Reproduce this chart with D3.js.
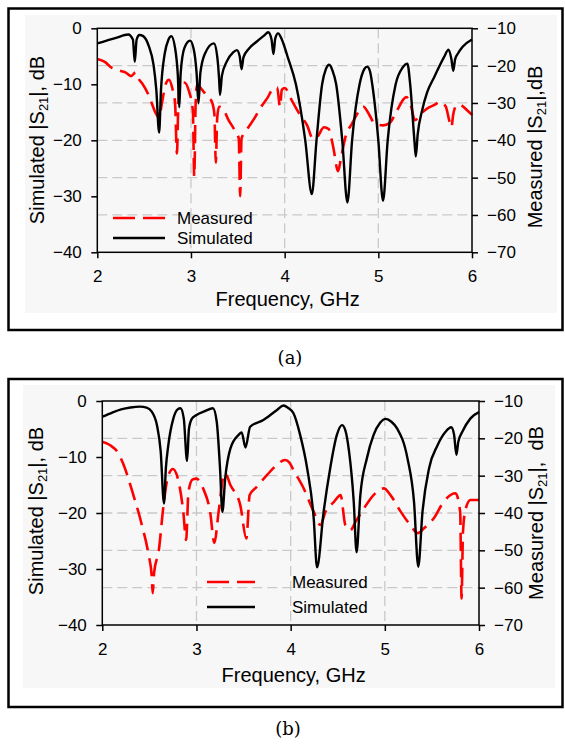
<!DOCTYPE html>
<html>
<head>
<meta charset="utf-8">
<script src="https://cdn.jsdelivr.net/npm/d3@7"></script>
<style>
  body { margin: 0; background: #fff; }
  text { font-family: "Liberation Sans", Arial, sans-serif; fill: #000; }
</style>
</head>
<body>
<svg id="chart" width="565" height="747"></svg>
<script>
// ---- panel (a) ----
const simAFreq = [2.0,2.1,2.2,2.33,2.38,2.40,2.42,2.45,2.49,2.55,2.6,2.63,2.66,2.68,2.72,2.76,2.79,2.83,2.86,2.875,2.89,2.93,2.99,3.03,3.06,3.08,3.1,3.15,3.245,3.28,3.3,3.31,3.33,3.38,3.45,3.49,3.52,3.54,3.56,3.62,3.7,3.78,3.825,3.86,3.88,3.9,3.93,3.97,4.03,4.12,4.22,4.29,4.34,4.4,4.44,4.476,4.51,4.55,4.615,4.67,4.72,4.8,4.85,4.88,4.91,4.935,5.0,5.05,5.1,5.185,5.26,5.31,5.34,5.385,5.40,5.42,5.47,5.52,5.6,5.7,5.75,5.78,5.80,5.82,5.85,5.9,6.0]
const simADb = [-2.7,-2.2,-1.7,-1.1,-2.0,-6.0,-2.0,-1.2,-1.4,-3.2,-6.5,-11,-18.6,-11,-4.5,-2.0,-1.4,-3.5,-8.5,-14.1,-8,-3.5,-2.2,-3.8,-8,-13.4,-8,-4.5,-2.7,-5,-9,-11.9,-8.5,-6,-4.3,-3.9,-5,-7.3,-5.2,-3.6,-2.4,-1.3,-0.7,-2.0,-4.6,-1.8,-0.9,-2.0,-5.0,-10,-20,-29.6,-20,-10,-7.3,-6.5,-7.5,-10,-20,-31.1,-20,-10,-7.3,-6.85,-7.6,-10,-20,-30.8,-20,-10,-7,-6.3,-10,-20,-22.9,-19,-14.5,-11.5,-8.6,-5.2,-3.8,-5.5,-7.6,-5.5,-4.5,-3.3,-2.0]

const measAFreq = [2.0,2.08,2.15,2.23,2.3,2.36,2.41,2.44,2.48,2.55,2.62,2.66,2.69,2.73,2.765,2.8,2.83,2.85,2.865,2.88,2.93,2.98,3.02,3.035,3.05,3.065,3.12,3.18,3.22,3.25,3.265,3.28,3.30,3.34,3.40,3.46,3.51,3.525,3.54,3.6,3.68,3.75,3.82,3.88,3.92,3.95,3.97,4.0,4.08,4.16,4.24,4.3,4.35,4.42,4.47,4.52,4.57,4.6,4.65,4.72,4.8,4.84,4.9,4.96,5.05,5.12,5.2,5.27,5.3,5.35,5.39,5.45,5.52,5.6,5.66,5.72,5.76,5.78,5.80,5.84,5.88,5.95,6.0]
const measADb = [-18.2,-19,-20.5,-21.3,-21.8,-22.8,-21.8,-23.5,-24.8,-28,-32.5,-34,-30,-25,-23.8,-26,-30,-43.5,-30,-24.5,-24.5,-27,-32,-49.7,-30,-25.2,-26.5,-28.5,-29.5,-33,-46,-34,-31,-31.5,-34.5,-37,-39.5,-55,-39.5,-37,-34,-31,-28.5,-26,-25.8,-31,-26.5,-26,-29.5,-33,-36,-39.5,-39,-36.5,-37,-42,-48.3,-45,-39,-35.5,-32,-31,-33,-35.5,-36,-35.4,-32,-29,-28.4,-31,-34.6,-33,-31.5,-30.5,-29.7,-31,-35,-36.5,-33,-30.5,-30.6,-32,-33.2]

// ---- panel (b) ----
const simBFreq = [2.0,2.1,2.2,2.3,2.4,2.47,2.525,2.58,2.62,2.655,2.675,2.70,2.755,2.8,2.83,2.865,2.90,2.92,2.95,3.0,3.09,3.175,3.215,3.25,3.275,3.305,3.36,3.445,3.48,3.52,3.57,3.71,3.855,3.925,3.97,4.03,4.1,4.175,4.245,4.28,4.35,4.42,4.49,4.545,4.58,4.62,4.67,4.70,4.74,4.81,4.88,4.95,5.01,5.07,5.13,5.24,5.31,5.355,5.40,5.47,5.56,5.645,5.705,5.735,5.76,5.78,5.82,5.91,6.0]
const simBDb = [-2.8,-2.1,-1.5,-1.15,-1.0,-1.2,-1.9,-4.3,-9,-18.3,-12,-8,-3.1,-1.5,-1.3,-3.1,-10.7,-5,-3.2,-2.5,-1.8,-1.3,-3.7,-12,-19.8,-13.8,-8.5,-6.1,-5.6,-8.3,-4.6,-3.4,-1.6,-0.8,-1.2,-2.2,-6,-12,-21,-29.7,-19.8,-12,-6.1,-4.3,-5.2,-9,-18,-27,-16.8,-10.2,-6.1,-3.9,-3.2,-3.7,-4.9,-10.2,-18,-29.6,-19.8,-12,-7.9,-5.5,-4.7,-6,-9.6,-7.3,-5.6,-3.1,-2.0]

const measBFreq = [2.0,2.08,2.17,2.22,2.33,2.42,2.49,2.525,2.535,2.55,2.6,2.65,2.70,2.75,2.81,2.86,2.89,2.915,2.96,3.0,3.07,3.145,3.19,3.235,3.29,3.305,3.36,3.465,3.53,3.565,3.64,3.75,3.855,3.94,3.99,4.03,4.14,4.245,4.315,4.37,4.46,4.53,4.58,4.635,4.69,4.78,4.88,4.99,5.06,5.17,5.27,5.35,5.415,5.52,5.625,5.75,5.80,5.815,5.83,5.86,5.91,6.0]
const measBDb = [-20.9,-21.8,-24.0,-26.7,-35.2,-43.2,-51,-57,-61.5,-56,-50,-38,-30,-28.2,-31.6,-39.7,-47.2,-34.3,-31,-30.8,-33.4,-39.7,-48,-39.7,-29.8,-29.4,-32.5,-37.9,-46.8,-35.2,-33,-29.8,-27.1,-25.8,-26.6,-28.5,-33.5,-39.7,-43.2,-39.7,-37,-35.2,-43.2,-44.6,-42.3,-38.7,-35.2,-33.4,-35.2,-39.7,-43.2,-45.4,-44.1,-41.4,-37,-34.7,-39.7,-62.9,-45,-38.7,-36.5,-36.5]

// ticks and labels
const freqTicks = [2, 3, 4, 5, 6]
const simTicks = [0, -10, -20, -30, -40]
const measTicks = [-10, -20, -30, -40, -50, -60, -70]
const gridFreq = [3, 4, 5]
const gridMeas = [-20, -30, -40, -50, -60]
const legendLabels = ["Measured", "Simulated"]

const svg = d3.select("#chart")

function zip (f, v) {
  return f.map(function (d, i) { return [d, v[i]] })
}

function drawPanel (p) {
  const g = svg.append("g")

  // outer frame + light plot background
  g.append("rect")
    .attr("x", 8.5).attr("y", p.boxTop)
    .attr("width", 554).attr("height", p.boxH)
    .attr("fill", "#fff").attr("stroke", "#000").attr("stroke-width", 2.5)
  g.append("rect")
    .attr("x", p.bg[0]).attr("y", p.bg[1])
    .attr("width", p.bg[2]).attr("height", p.bg[3])
    .attr("fill", "#f7f7f7")

  const x = d3.scaleLinear().domain([2, 6]).range([p.left, p.right])
  const ySim = d3.scaleLinear().domain([-40, 0]).range([p.bottom, p.top])
  const yMeas = d3.scaleLinear().domain([-70, -10]).range([p.bottom, p.top])

  // grid
  g.selectAll(".hgrid").data(gridMeas).join("line")
    .attr("x1", p.left).attr("x2", p.right)
    .attr("y1", d => yMeas(d)).attr("y2", d => yMeas(d))
    .attr("stroke", "#c9c9c9").attr("stroke-width", 1.3).attr("stroke-dasharray", "10,5")
  g.selectAll(".vgrid").data(gridFreq).join("line")
    .attr("x1", d => x(d)).attr("x2", d => x(d))
    .attr("y1", p.top).attr("y2", p.bottom)
    .attr("stroke", "#c9c9c9").attr("stroke-width", 1.3).attr("stroke-dasharray", "10,5")

  const simLine = d3.line().x(d => x(d[0])).y(d => ySim(d[1])).curve(d3.curveMonotoneX)
  const measLine = d3.line().x(d => x(d[0])).y(d => yMeas(d[1])).curve(d3.curveMonotoneX)

  g.append("path").datum(zip(p.measF, p.measV))
    .attr("d", measLine).attr("fill", "none")
    .attr("stroke", "#ff0000").attr("stroke-width", 2.6).attr("stroke-dasharray", "18,8")
  g.append("path").datum(zip(p.simF, p.simV))
    .attr("d", simLine).attr("fill", "none")
    .attr("stroke", "#000").attr("stroke-width", 2.4).attr("stroke-linejoin", "round")

  // plot box
  g.append("rect")
    .attr("x", p.left).attr("y", p.top)
    .attr("width", p.right - p.left).attr("height", p.bottom - p.top)
    .attr("fill", "none").attr("stroke", "#000").attr("stroke-width", 1.5)

  // axes
  const axL = g.append("g").attr("transform", "translate(" + p.left + ",0)")
    .call(d3.axisLeft(ySim).tickValues(simTicks).tickSize(6).tickSizeOuter(0).tickPadding(9.5))
  const axR = g.append("g").attr("transform", "translate(" + p.right + ",0)")
    .call(d3.axisRight(yMeas).tickValues(measTicks).tickSize(6).tickSizeOuter(0).tickPadding(9))
  const axB = g.append("g").attr("transform", "translate(0," + p.bottom + ")")
    .call(d3.axisBottom(x).tickValues(freqTicks).tickFormat(d3.format("d")).tickSize(6).tickSizeOuter(0).tickPadding(12))
  ;[axL, axR, axB].forEach(function (a) {
    a.select(".domain").remove()
    a.selectAll("line").attr("stroke", "#000").attr("stroke-width", 1.5)
    a.selectAll("text").style("font-size", "17px").style("font-family", "Liberation Sans, Arial, sans-serif")
  })

  // legend
  const lg = g.append("g")
  lg.append("line")
    .attr("x1", p.leg[0]).attr("x2", p.leg[1]).attr("y1", p.leg[2]).attr("y2", p.leg[2])
    .attr("stroke", "#ff0000").attr("stroke-width", 2.6).attr("stroke-dasharray", "22,8")
  lg.append("line")
    .attr("x1", p.leg[0]).attr("x2", p.leg[1]).attr("y1", p.leg[3]).attr("y2", p.leg[3])
    .attr("stroke", "#000").attr("stroke-width", 2.4)
  lg.selectAll("text").data(legendLabels).join("text")
    .attr("x", p.leg[4])
    .attr("y", (d, i) => i === 0 ? p.leg[2] : p.leg[3])
    .attr("dy", "0.36em")
    .style("font-size", "17px")
    .text(d => d)

  // axis titles
  g.append("text")
    .attr("x", (p.left + p.right) / 2 + 3).attr("y", p.xTitleY)
    .attr("text-anchor", "middle").style("font-size", "20px")
    .text("Frequency, GHz")

  const lt = g.append("text")
    .attr("transform", "translate(" + p.yl[0] + "," + p.yl[1] + ") rotate(-90)")
    .attr("text-anchor", "middle").style("font-size", "20px")
  lt.append("tspan").text("Simulated |S")
  lt.append("tspan").attr("dy", 4).style("font-size", "13px").text("21")
  lt.append("tspan").attr("dy", -4).text("|, dB")

  const rt = g.append("text")
    .attr("transform", "translate(" + p.yr[0] + "," + p.yr[1] + ") rotate(-90)")
    .attr("text-anchor", "middle").style("font-size", "20px")
  rt.append("tspan").text("Measured |S")
  rt.append("tspan").attr("dy", 4).style("font-size", "13px").text("21")
  rt.append("tspan").attr("dy", -4).text(p.rightTail)

  // caption
  g.append("text")
    .attr("x", p.cap[0]).attr("y", p.cap[1])
    .attr("text-anchor", "middle")
    .style("font-family", "DejaVu Serif, serif").style("font-size", "18px")
    .text(p.capText)
}

drawPanel({
  boxTop: 8.5, boxH: 321.5, bg: [25, 15, 532, 298],
  left: 97.3, right: 472, top: 28.3, bottom: 252.3,
  simF: simAFreq, simV: simADb, measF: measAFreq, measV: measADb,
  leg: [113, 165, 218, 238, 177],
  xTitleY: 306, yl: [44, 140], yr: [542, 147], rightTail: "|,dB",
  cap: [290, 364], capText: "(a)"
})

drawPanel({
  boxTop: 379, boxH: 328, bg: [23, 385, 532, 303],
  left: 102.3, right: 479, top: 401, bottom: 625,
  simF: simBFreq, simV: simBDb, measF: measBFreq, measV: measBDb,
  leg: [207, 255, 582, 607, 292],
  xTitleY: 682, yl: [43, 511], yr: [543, 513], rightTail: "|,\u00a0 dB",
  cap: [288, 735], capText: "(b)"
})
</script>
</body>
</html>
